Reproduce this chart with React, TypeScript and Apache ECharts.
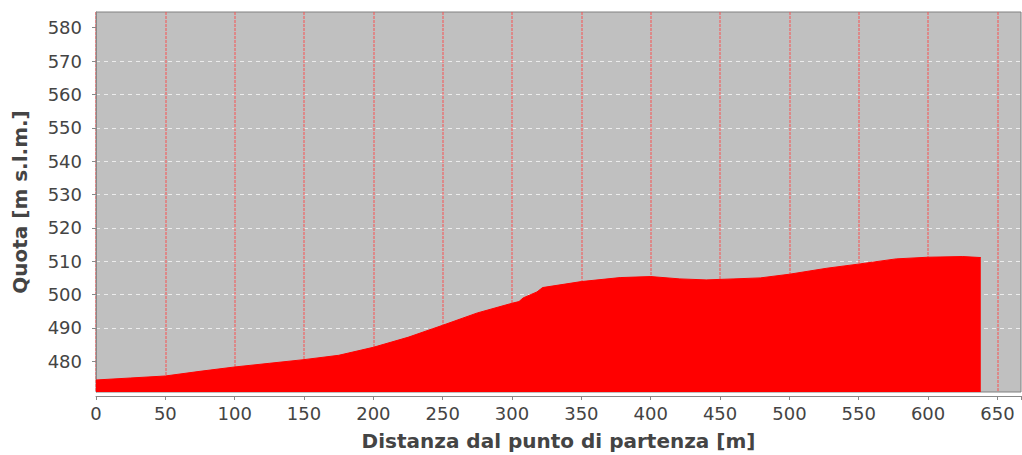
import React, { useEffect, useRef } from "react";
import * as echarts from "echarts";

const distances = [0, 25, 50, 75, 100, 125, 150, 175, 200, 225, 250, 275, 300, 305, 308, 318, 322, 350, 378, 400, 421, 440, 460, 479, 500, 527, 551, 577, 600, 625, 638];
const elevations = [474.4, 475.0, 475.6, 477.0, 478.3, 479.4, 480.5, 481.8, 484.2, 487.2, 490.8, 494.5, 497.4, 497.9, 499.0, 500.8, 502.1, 503.9, 505.1, 505.4, 504.7, 504.4, 504.7, 505.0, 506.1, 507.9, 509.2, 510.7, 511.2, 511.4, 511.1];
const xStep = 50;
const yTicks = [480, 490, 500, 510, 520, 530, 540, 550, 560, 570, 580];

export default function App() {
  const ref = useRef<HTMLDivElement>(null);
  useEffect(() => {
    if (!ref.current) return;
    const chart = echarts.init(ref.current, null, { renderer: "svg" });
    const font = "DejaVu Sans";
    chart.setOption({
      animation: false,
      backgroundColor: "#ffffff",
      grid: {
        left: 96,
        right: 1,
        top: 12,
        bottom: 63,
        outerBoundsMode: "none",
        containLabel: false,
        show: true,
        backgroundColor: "#c0c0c0",
        borderColor: "#808080",
        borderWidth: 1,
      },
      xAxis: {
        type: "value",
        min: 0,
        max: 667,
        interval: xStep,
        offset: 4,
        name: "Distanza dal punto di partenza [m]",
        nameLocation: "middle",
        nameGap: 35,
        nameTextStyle: { fontFamily: font, fontSize: 20, fontWeight: "bold", color: "#444444" },
        axisLine: { show: true, lineStyle: { color: "#888888", width: 1 } },
        axisTick: { show: true, length: 4, lineStyle: { color: "#888888" } },
        axisLabel: {
          fontFamily: font,
          fontSize: 18,
          color: "#444444",
          margin: 8,
          showMaxLabel: true,
          hideOverlap: false,
          formatter: (v: number) => (v % xStep === 0 ? String(v) : ""),
        },
        splitLine: {
          show: true,
          showMaxLine: false,
          lineStyle: { color: "rgba(255,70,70,0.45)", type: [3, 1], width: 2 },
        },
      },
      yAxis: {
        type: "value",
        min: 470.8,
        max: 584.7,
        offset: 6,
        name: "Quota [m s.l.m.]",
        nameLocation: "middle",
        nameGap: 60,
        nameRotate: 90,
        nameTextStyle: { fontFamily: font, fontSize: 20, fontWeight: "bold", color: "#444444" },
        axisLine: { show: true, lineStyle: { color: "#888888", width: 1 } },
        axisTick: { show: true, length: 4, lineStyle: { color: "#888888" }, customValues: yTicks },
        axisLabel: { fontFamily: font, fontSize: 18, color: "#444444", margin: 8, customValues: yTicks },
        splitLine: {
          show: true,
          showMaxLine: false,
          showMinLine: false,
          lineStyle: { color: "#ececec", type: [4, 4], width: 1 },
        },
      },
      series: [
        {
          type: "line",
          data: distances.map((d, i) => [d, elevations[i]]),
          symbol: "none",
          lineStyle: { color: "#ff0000", width: 1 },
          areaStyle: { color: "#ff0000", opacity: 1, origin: "start" },
          itemStyle: { color: "#ff0000" },
        },
      ],
    });
    return () => chart.dispose();
  }, []);
  return (
    <div
      ref={ref}
      style={{ position: "fixed", left: 0, top: 0, width: 1022, height: 455 }}
    />
  );
}
